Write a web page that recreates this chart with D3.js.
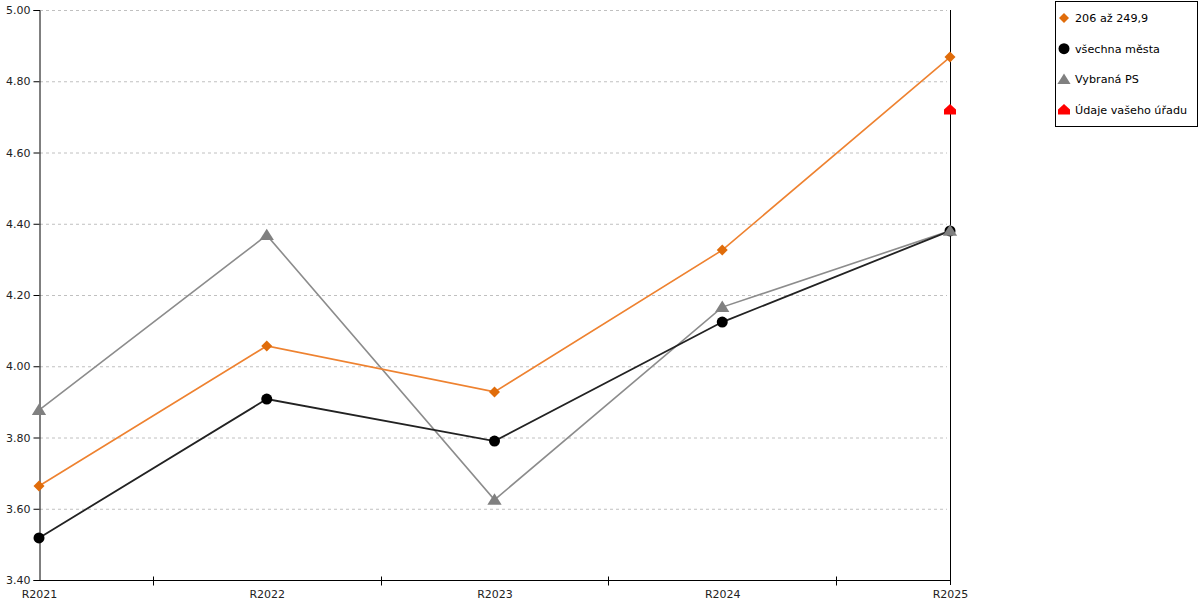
<!DOCTYPE html>
<html><head><meta charset="utf-8">
<script src="https://cdn.jsdelivr.net/npm/d3@7"></script>
<style>body{margin:0;background:#fff}svg{display:block;font-family:"DejaVu Sans",Verdana,sans-serif}</style>
</head><body>
<svg id="c" width="1200" height="600"></svg>
<script>
const categories = ["R2021","R2022","R2023","R2024","R2025"];
const orangeValues = [3.664, 4.057, 3.928, 4.326, 4.868];
const allCitiesValues = [3.518, 3.908, 3.790, 4.124, 4.380];
const psValues = [3.877, 4.368, 3.625, 4.166, 4.380];
const officeValues = [null, null, null, null, 4.719];
const yTicks = [3.4, 3.6, 3.8, 4.0, 4.2, 4.4, 4.6, 4.8, 5.0];
const seriesNames = ["206 až 249,9", "všechna města", "Vybraná PS", "Údaje vašeho úřadu"];

const svg = d3.select("#c");
const L = 39, R = 950, T = 10, B = 580;
const x = d3.scalePoint().domain(categories).range([L, R]);
const y = d3.scaleLinear().domain([3.4, 5.0]).range([B, T]);

// grid
svg.append("g").selectAll("line").data(yTicks).join("line")
  .attr("x1", L + 1).attr("x2", R - 3)
  .attr("y1", d => y(d) + 0.5).attr("y2", d => y(d) + 0.5)
  .attr("stroke", "#c0c0c0").attr("stroke-dasharray", "3,3");

// y axis
const ya = svg.append("g").attr("transform", `translate(${L + 0.5},0)`)
  .call(d3.axisLeft(y).tickValues(yTicks).tickFormat(d3.format(".2f")).tickSize(6).tickPadding(3));
ya.select(".domain").attr("stroke", "#000");
ya.selectAll("text").attr("font-size", 11).attr("fill", "#222").attr("font-family", "DejaVu Sans, Verdana, sans-serif");

// x axis
const xa = svg.append("g").attr("transform", `translate(0,${B + 0.5})`)
  .call(d3.axisBottom(x).tickSize(0).tickPadding(10));
xa.select(".domain").attr("stroke", "#000").attr("d", `M${L},0H${R}`);
xa.selectAll("text").attr("font-size", 11).attr("fill", "#222").attr("font-family", "DejaVu Sans, Verdana, sans-serif");
// minor ticks between categories
const mids = categories.slice(1).map((c, i) => (x(categories[i]) + x(c)) / 2);
xa.append("g").selectAll("line").data(mids).join("line")
  .attr("x1", d => Math.round(d) + 0.5).attr("x2", d => Math.round(d) + 0.5)
  .attr("y1", -4).attr("y2", 5).attr("stroke", "#000");

// right vertical line
svg.append("line").attr("x1", R + 0.5).attr("x2", R + 0.5).attr("y1", T).attr("y2", B + 5).attr("stroke", "#000");

const line = d3.line().defined(d => d.v != null).x(d => x(d.c)).y(d => y(d.v));
const toPts = vals => categories.map((c, i) => ({c, v: vals[i]}));

function drawSeries(vals, stroke, width) {
  svg.append("path").datum(toPts(vals)).attr("d", line)
    .attr("fill", "none").attr("stroke", stroke).attr("stroke-width", width);
}
drawSeries(psValues, "#8c8c8c", 1.6);
drawSeries(orangeValues, "#ee8230", 1.6);
drawSeries(allCitiesValues, "#222", 1.8);

function diamondPath(s){ return `M0,${-s}L${s},0L0,${s}L${-s},0Z`; }
function triPath(s){ return `M0,${-s}L${s*1.1},${s*0.75}L${-s*1.1},${s*0.75}Z`; }
function housePath(s){ return `M0,${-s}L${s},${-s*0.1}L${s},${s*0.75}L${-s},${s*0.75}L${-s},${-s*0.1}Z`; }

function drawMarkers(vals, fn) {
  svg.append("g").selectAll("g").data(toPts(vals).filter(d => d.v != null)).join("g")
    .attr("transform", d => `translate(${x(d.c)},${y(d.v)})`).each(fn);
}
drawMarkers(orangeValues, function(){ d3.select(this).append("path").attr("d", diamondPath(5.5)).attr("fill", "#e06c0a"); });
drawMarkers(allCitiesValues, function(){ d3.select(this).append("circle").attr("r", 5.5).attr("fill", "#000"); });
drawMarkers(psValues, function(){ d3.select(this).append("path").attr("d", triPath(6.5)).attr("fill", "#808080"); });
drawMarkers(officeValues, function(){ d3.select(this).append("path").attr("d", housePath(6)).attr("fill", "#ff0000"); });

// legend
const lg = svg.append("g");
lg.append("rect").attr("x", 1055.5).attr("y", 1.5).attr("width", 142).attr("height", 125)
  .attr("fill", "#fff").attr("stroke", "#000");
const markerFns = [
  g => g.append("path").attr("d", diamondPath(5)).attr("fill", "#e06c0a"),
  g => g.append("circle").attr("r", 5.5).attr("fill", "#000"),
  g => g.append("path").attr("d", triPath(6)).attr("fill", "#808080"),
  g => g.append("path").attr("d", housePath(6)).attr("fill", "#ff0000")
];
seriesNames.forEach((n, i) => {
  const gy = 18 + i * 30.7;
  const g = lg.append("g").attr("transform", `translate(1064,${gy})`);
  markerFns[i](g);
  lg.append("text").attr("x", 1075).attr("y", gy + 4).attr("font-size", 11.2).attr("fill", "#000").text(n);
});
</script>
</body></html>
